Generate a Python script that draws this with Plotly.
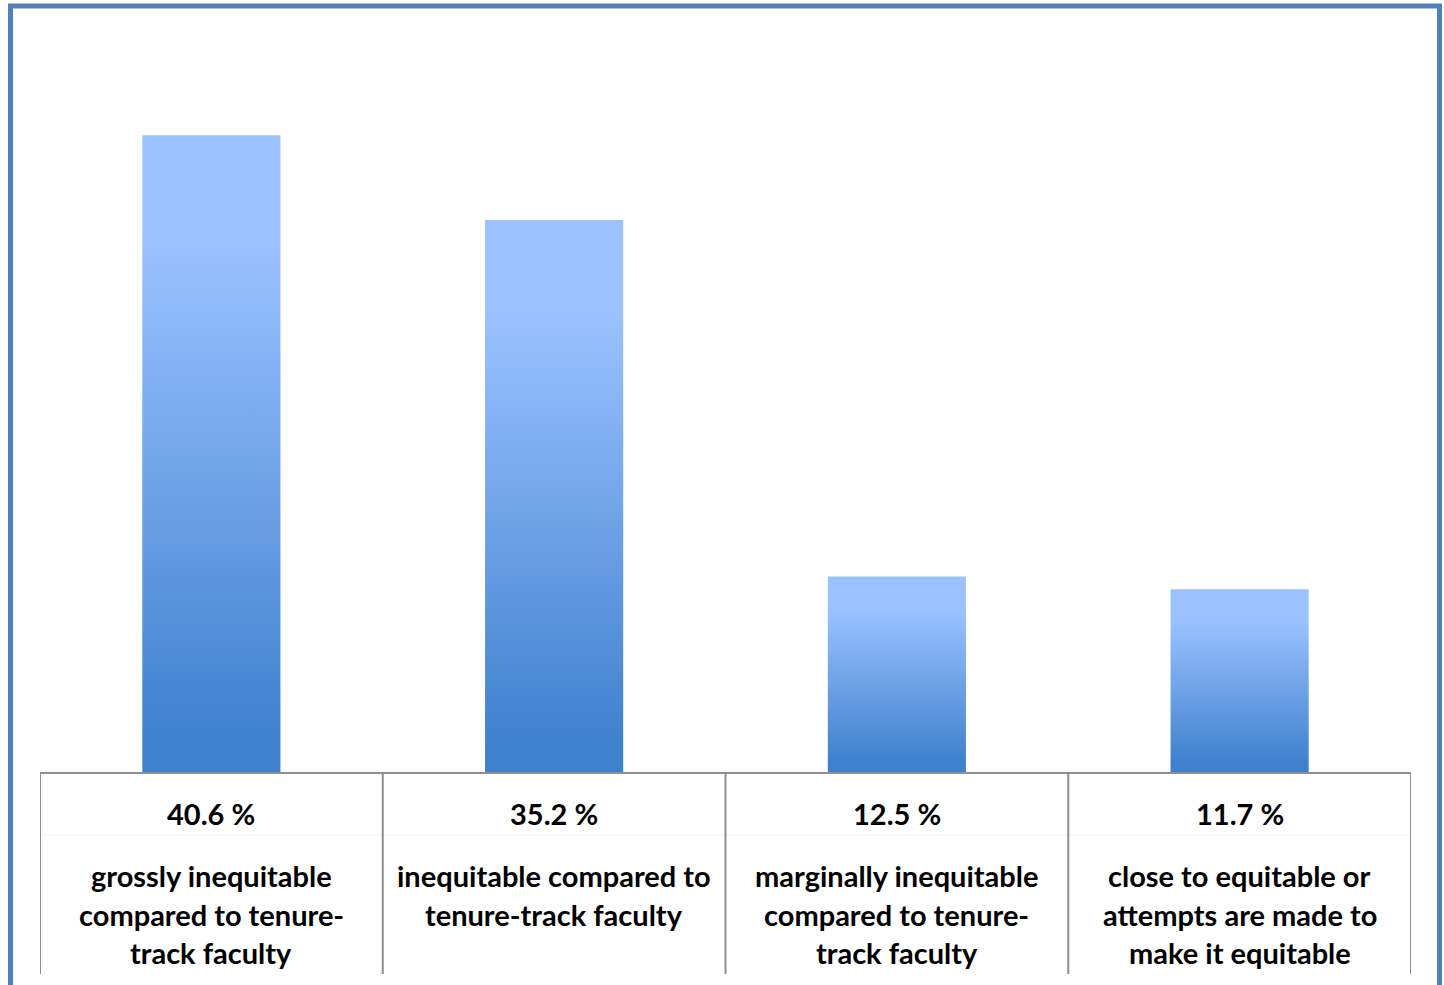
import plotly.graph_objects as go

# ---- data ----
categories = [
    "grossly inequitable<br>compared to tenure-<br>track faculty",
    "inequitable compared to<br>tenure-track faculty",
    "marginally inequitable<br>compared to tenure-<br>track faculty",
    "close to equitable or<br>attempts are made to<br>make it equitable",
]
values = [40.6, 35.2, 12.5, 11.7]
value_labels = ["40.6 %", "35.2 %", "12.5 %", "11.7 %"]

# ---- layout geometry (pixels) ----
W, H = 1444, 985
ML, MR, MT, MB = 40, 33, 66, 212
PW = W - ML - MR
PH = H - MT - MB
YMAX = 45
BAR_HALF = 0.2015

FONT = "Lato, 'Open Sans', sans-serif"
GRAD = [[0.0, "#3F80CD"], [0.06, "#4081CE"], [0.83, "#9BC2FF"], [1.0, "#9BC2FF"]]


def px_x(p):
    return (p - ML) / PW


def px_y(p):
    return (H - MB - p) / PH


fig = go.Figure()

for i, v in enumerate(values):
    fig.add_trace(go.Scatter(
        x=[i - BAR_HALF, i + BAR_HALF, i + BAR_HALF, i - BAR_HALF, i - BAR_HALF],
        y=[0, 0, v, v, 0],
        mode="lines",
        line=dict(width=0),
        fill="toself",
        fillgradient=dict(type="vertical", colorscale=GRAD, start=0, stop=v),
        hoverinfo="skip",
        showlegend=False,
    ))

shapes = []
line_col = "#8E8E8E"
# table vertical lines
for k in range(len(values) + 1):
    shapes.append(dict(type="line", xref="x", yref="paper",
                       x0=k - 0.5, x1=k - 0.5, y0=0, y1=px_y(974),
                       line=dict(color=line_col, width=2)))
# faint row separator
shapes.append(dict(type="line", xref="x", yref="paper",
                   x0=-0.5, x1=len(values) - 0.5, y0=px_y(835), y1=px_y(835),
                   line=dict(color="#F2F2F2", width=1), layer="below"))
# axis line
shapes.append(dict(type="line", xref="x", yref="paper",
                   x0=-0.5, x1=len(values) - 0.5, y0=0, y1=0,
                   line=dict(color=line_col, width=2)))
# outer blue frame
shapes.append(dict(type="rect", xref="paper", yref="paper",
                   x0=px_x(10.5), x1=px_x(1439.5), y0=px_y(6), y1=px_y(1000),
                   line=dict(color="#4F81BD", width=5), fillcolor="rgba(0,0,0,0)",
                   layer="above"))

annotations = []
line_y = [875, 914, 953]
for i, (cat, lab) in enumerate(zip(categories, value_labels)):
    annotations.append(dict(x=i, y=px_y(813), xref="x", yref="paper",
                            text=lab, showarrow=False, xanchor="center", yanchor="middle",
                            font=dict(family=FONT, size=29, color="#000000", weight="bold")))
    for j, ln in enumerate(cat.split("<br>")):
        annotations.append(dict(x=i, y=px_y(line_y[j]), xref="x", yref="paper",
                                text=ln, showarrow=False, xanchor="center", yanchor="middle",
                                font=dict(family=FONT, size=29, color="#000000", weight="bold")))

fig.update_layout(
    width=W, height=H,
    margin=dict(l=ML, r=MR, t=MT, b=MB, pad=0),
    paper_bgcolor="white", plot_bgcolor="white",
    xaxis=dict(range=[-0.5, len(values) - 0.5], showgrid=False, zeroline=False,
               showticklabels=False, showline=False, fixedrange=True),
    yaxis=dict(range=[0, YMAX], showgrid=False, zeroline=False,
               showticklabels=False, showline=False, fixedrange=True),
    shapes=shapes,
    annotations=annotations,
    showlegend=False,
)

fig.write_html("out.html", config={"displayModeBar": False},
               post_script="document.body.style.margin='0';document.body.style.overflow='hidden';")
